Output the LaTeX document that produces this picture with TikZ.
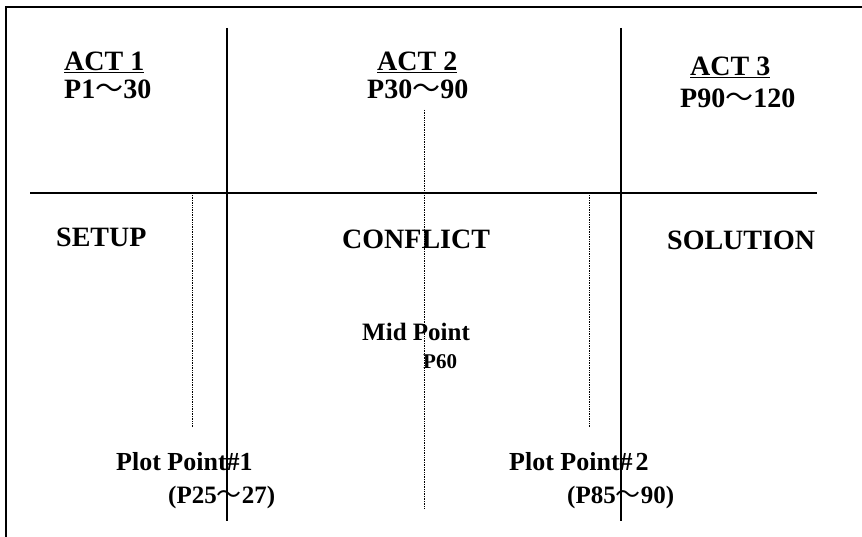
\documentclass[tikz,border=0pt]{standalone}
\usepackage{fontspec}
\setmainfont{Liberation Serif}
\newfontfamily\cjk{Noto Sans CJK JP}
\newcommand\wave{{\cjk\mdseries ～}}
\tikzset{
    big/.style={font=\fontsize{28}{30}\selectfont\bfseries, inner sep=0pt, anchor=base west},
    mid/.style={font=\fontsize{25}{27}\selectfont\bfseries, inner sep=0pt, anchor=base west},
    plot/.style={font=\fontsize{26}{28}\selectfont\bfseries, inner sep=0pt, anchor=base west},
    small/.style={font=\fontsize{21}{23}\selectfont\bfseries, inner sep=0pt, anchor=base west},
    divider/.style={line width=1.6pt},
    guide/.style={line width=0.7pt, densely dotted}
}
\begin{document}
\begin{tikzpicture}[x=1pt,y=-1pt]
    \useasboundingbox (0,0) rectangle (862,537);
    %% frame
    \draw[line width=2.2pt] (6,537) -- (6,7) -- (862,7);
    %% acts
    \draw[divider] (227,28) -- (227,521);
    \draw[divider] (621,28) -- (621,521);
    \draw[divider] (30,193) -- (817,193);
    %% turning points
    \foreach \x/\a/\b in {192/195/427, 424/110/509, 589/195/427}
        \draw[guide] (\x,\a) -- (\x,\b);
    %% headings
    \node[big] (act1) at (64,71) {\underline{ACT 1}};
    \node[big] (act1p) at (64,99) {P1\wave30};
    \node[big] (act2) at (377,71) {\underline{ACT 2}};
    \node[big] (act2p) at (367,99) {P30\wave90};
    \node[big] (act3) at (690,76) {\underline{ACT 3}};
    \node[big] (act3p) at (680,108) {P90\wave120};
    %% parts
    \node[big] (setup) at (56,247) {SETUP};
    \node[big] (conflict) at (342,249) {CONFLICT};
    \node[big] (solution) at (667,250) {SOLUTION};
    %% points
    \node[mid] (midpt) at (362,341) {Mid Point};
    \node[small] (midp) at (423,368) {P60};
    \node[plot] (pp1) at (116,470) {Plot Point\#1};
    \node[mid] (pp1p) at (168,503) {(P25\wave27)};
    \node[plot] (pp2) at (509,470) {Plot Point\#\kern3pt2};
    \node[mid] (pp2p) at (567,503) {(P85\wave90)};
\end{tikzpicture}
\end{document}
